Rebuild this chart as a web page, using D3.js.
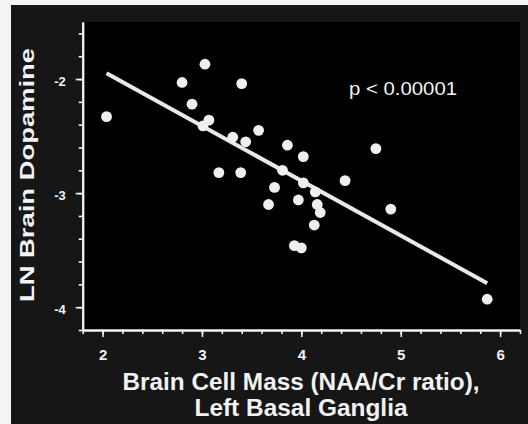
<!DOCTYPE html>
<html>
<head>
<meta charset="utf-8">
<script src="https://cdn.jsdelivr.net/npm/d3@7/dist/d3.min.js"></script>
<style>
  html, body { margin: 0; padding: 0; background: #f4f4f4; }
  svg { display: block; }
  text { font-family: "Liberation Sans", Arial, Helvetica, sans-serif; }
</style>
</head>
<body>
<svg id="chart" width="528" height="424"></svg>
<script>
// ---- data ----
const naaCr = [2.04, 2.80, 3.03, 3.40, 2.90, 3.07, 3.01, 3.57, 3.31, 3.44,
               3.17, 3.39, 3.86, 3.81, 4.02, 4.75, 3.73, 4.02, 4.14, 4.44,
               3.67, 3.97, 4.16, 4.19, 4.13, 4.90, 3.93, 4.00, 5.87];
const lnDopamine = [-2.33, -2.03, -1.87, -2.04, -2.22, -2.36, -2.41, -2.45, -2.51, -2.55,
                    -2.82, -2.82, -2.58, -2.80, -2.68, -2.61, -2.95, -2.91, -2.99, -2.89,
                    -3.10, -3.06, -3.10, -3.17, -3.28, -3.14, -3.46, -3.48, -3.93];
const fitX = [2.04, 5.87];
const fitY = [-1.95, -3.79];
const xDomain = [1.8, 6.2];
const yDomain = [-4.2, -1.5];
const xMajorTicks = [2, 3, 4, 5, 6];
const xMinorTicks = [1.8, 2.0, 2.2, 2.4, 2.6, 2.8, 3.0, 3.2, 3.4, 3.6, 3.8, 4.0, 4.2, 4.4, 4.6, 4.8, 5.0, 5.2, 5.4, 5.6, 5.8, 6.0, 6.2];
const yMajorTicks = [-2, -3, -4];
const yMinorTicks = [-4.2, -4.0, -3.8, -3.6, -3.4, -3.2, -3.0, -2.8, -2.6, -2.4, -2.2, -2.0, -1.8, -1.6];
const xTitleLines = ["Brain Cell Mass (NAA/Cr ratio),", "Left Basal Ganglia"];
const yTitle = "LN Brain Dopamine";
const pLabel = "p < 0.00001";

const points = naaCr.map((x, i) => ({ x, y: lnDopamine[i] }));
const fit = fitX.map((x, i) => ({ x, y: fitY[i] }));

// ---- layout ----
const svg = d3.select("#chart");
const plot = { left: 82.7, right: 520, top: 22, bottom: 330 };
const fg = "#f2f2f2";

const x = d3.scaleLinear().domain(xDomain).range([plot.left, plot.right]);
const y = d3.scaleLinear().domain(yDomain).range([plot.bottom, plot.top]);

// backgrounds
svg.append("rect").attr("x", 0).attr("y", 0).attr("width", 528).attr("height", 424).attr("fill", "#f4f4f4");
svg.append("rect").attr("x", 11).attr("y", 5).attr("width", 517).attr("height", 419).attr("fill", "#161616");
svg.append("rect").attr("x", plot.left).attr("y", plot.top)
   .attr("width", plot.right - plot.left).attr("height", plot.bottom - plot.top).attr("fill", "#000");

// regression line
svg.append("path")
  .datum(fit)
  .attr("d", d3.line().x(d => x(d.x)).y(d => y(d.y)))
  .attr("stroke", "#e9e9e9").attr("stroke-width", 4).attr("fill", "none");

// points
svg.append("g").selectAll("circle").data(points).join("circle")
  .attr("cx", d => x(d.x)).attr("cy", d => y(d.y)).attr("r", 5.4)
  .attr("fill", "#efefef");

// axes
function styleAxis(g) {
  g.selectAll("path").attr("stroke", fg).attr("stroke-width", 2);
  g.selectAll("line").attr("stroke", fg).attr("stroke-width", 1.6);
}
const plainFmt = d => String(d);

const xMinor = svg.append("g").attr("transform", `translate(0,${plot.bottom})`)
  .call(d3.axisBottom(x).tickValues(xMinorTicks).tickSize(4).tickSizeOuter(0).tickFormat(""));
styleAxis(xMinor);
const xMajor = svg.append("g").attr("transform", `translate(0,${plot.bottom})`)
  .call(d3.axisBottom(x).tickValues(xMajorTicks).tickSize(7).tickSizeOuter(0).tickPadding(12).tickFormat(plainFmt));
styleAxis(xMajor);
xMajor.selectAll("text").attr("fill", fg).attr("font-size", 15).attr("font-weight", "bold")
  .attr("font-family", "'Liberation Sans', Arial, sans-serif");

const yMinor = svg.append("g").attr("transform", `translate(${plot.left},0)`)
  .call(d3.axisLeft(y).tickValues(yMinorTicks).tickSize(4).tickSizeOuter(0).tickFormat(""));
styleAxis(yMinor);
const yMajor = svg.append("g").attr("transform", `translate(${plot.left},0)`)
  .call(d3.axisLeft(y).tickValues(yMajorTicks).tickSize(7).tickSizeOuter(0).tickPadding(10).tickFormat(plainFmt));
styleAxis(yMajor);
yMajor.selectAll("text").attr("fill", fg).attr("font-size", 13).attr("font-weight", "bold").attr("dy", "0.47em")
  .attr("font-family", "'Liberation Sans', Arial, sans-serif");
svg.selectAll(".domain").attr("stroke", fg);

// titles
svg.append("text")
  .attr("x", 301).attr("y", 390).attr("text-anchor", "middle")
  .attr("font-size", 23).attr("font-weight", "bold").attr("fill", fg)
  .attr("textLength", 357).attr("lengthAdjust", "spacingAndGlyphs")
  .text(xTitleLines[0]);
svg.append("text")
  .attr("x", 301).attr("y", 416).attr("text-anchor", "middle")
  .attr("font-size", 23).attr("font-weight", "bold").attr("fill", fg)
  .attr("textLength", 213).attr("lengthAdjust", "spacingAndGlyphs")
  .text(xTitleLines[1]);

svg.append("text")
  .attr("transform", "translate(33.5,175) rotate(-90)")
  .attr("text-anchor", "middle")
  .attr("font-size", 21).attr("font-weight", "bold").attr("fill", fg)
  .attr("textLength", 254).attr("lengthAdjust", "spacingAndGlyphs")
  .text(yTitle);

svg.append("text")
  .attr("x", 349).attr("y", 95)
  .attr("font-size", 17.5).attr("fill", fg)
  .attr("textLength", 108).attr("lengthAdjust", "spacingAndGlyphs")
  .text(pLabel);
</script>
</body>
</html>
